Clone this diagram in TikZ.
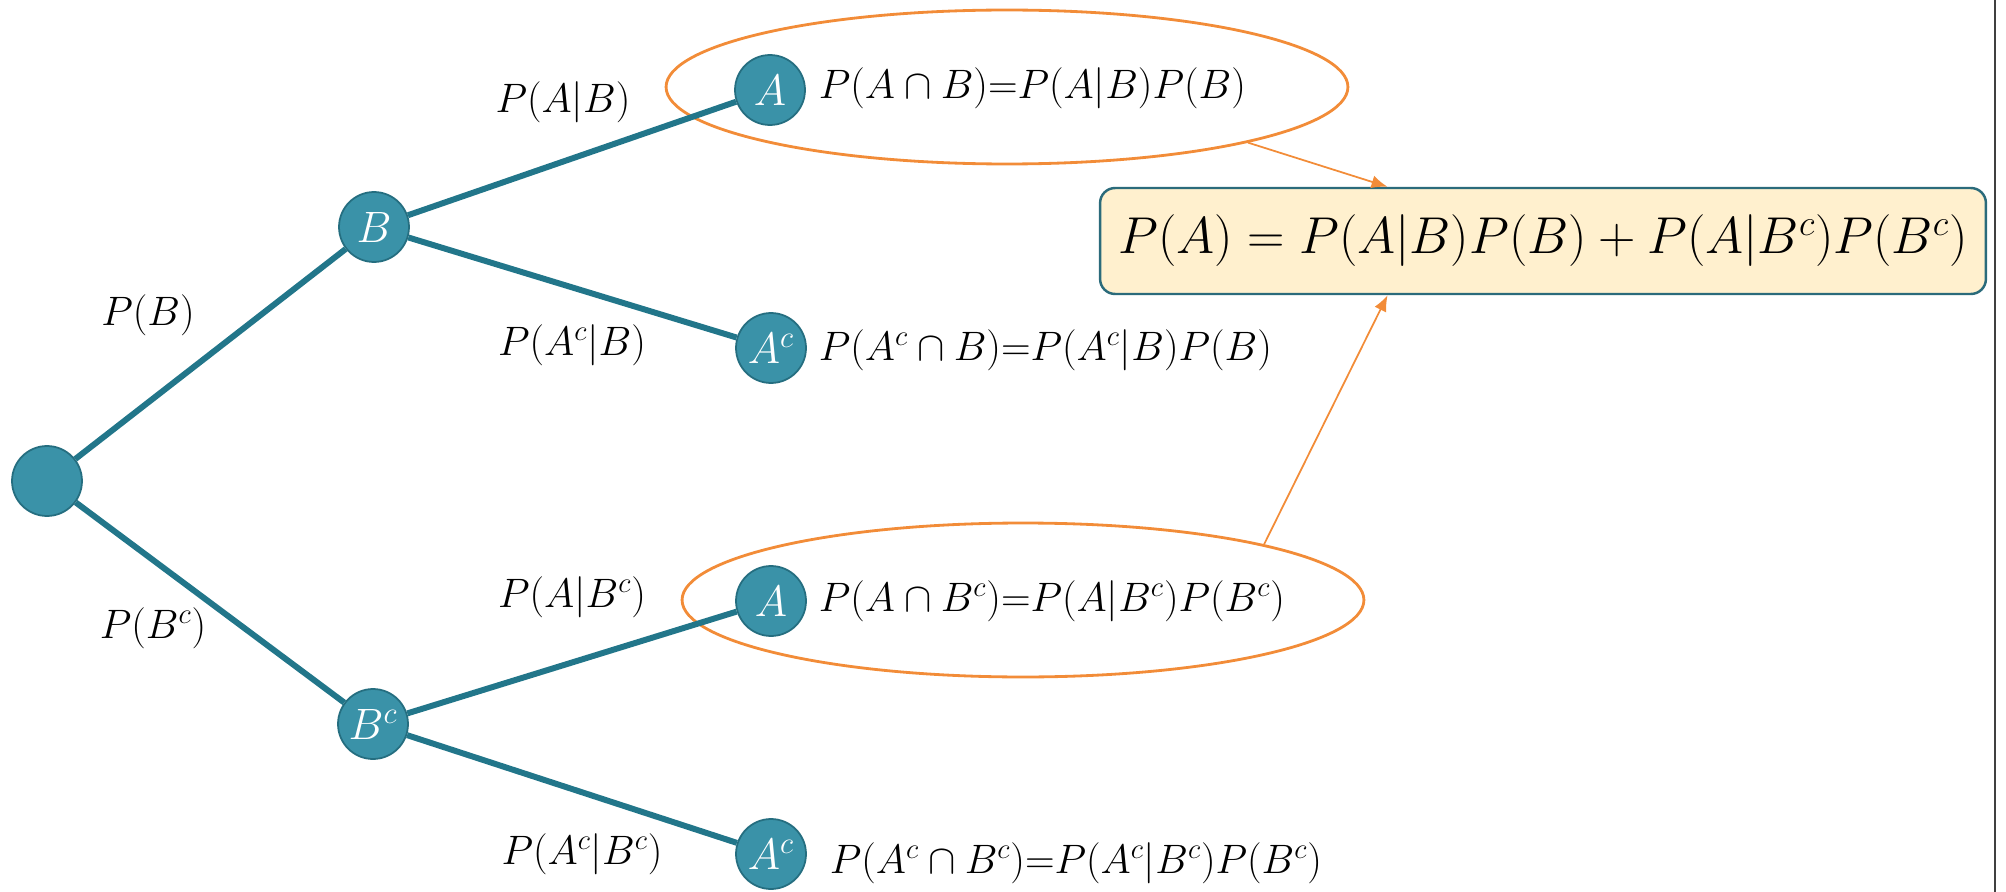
\RequirePackage{fix-cm}
\documentclass[tikz,border=0pt]{standalone}
\usepackage{amsmath}
\usepackage{amssymb}
\usepackage{xcolor}
\usetikzlibrary{shapes.geometric,calc,arrows.meta}
\definecolor{treeteal}{HTML}{22768A}
\definecolor{nodefill}{HTML}{3A92A8}
\definecolor{nodeline}{HTML}{256E80}
\definecolor{ringorange}{HTML}{F28C38}
\definecolor{boxfill}{HTML}{FFF0CE}
\definecolor{boxline}{HTML}{2B6B7B}
\newcommand{\evc}{^{c}}

\begin{document}
\begin{tikzpicture}[x=0.02cm,y=-0.02cm,>={Latex[length=0.32cm,width=0.26cm]},
                    every node/.style={inner sep=2pt},
                    event/.style={circle,fill=nodefill,draw=nodeline,line width=1pt,
                                  minimum size=1.4cm,inner sep=0pt,text=white,
                                  font=\fontsize{25}{30}\selectfont},
                    branch/.style={treeteal,line width=3.4pt},
                    prob/.style={font=\fontsize{23.4}{28}\selectfont},
                    ring/.style={ellipse,draw=ringorange,line width=1.6pt,
                                 minimum width=13.64cm,minimum height=3.08cm},
                    pull/.style={->,ringorange,line width=1pt}]
  \useasboundingbox (0,0) rectangle (2006,892);
  % orange rings behind the leaves
  \node[ring] (ringa) at (1007,87) {};
  \node[ring] (ringb) at (1023,600) {};
  % tree
  \node[event] (root) at (47,481) {};
  \node[event] (b) at (374,227) {$B$};
  \node[event] (bc) at (373,724) {$B\evc$};
  \node[event] (ab) at (770,90) {$A$};
  \node[event] (acb) at (771,348) {$A\evc$};
  \node[event] (abc) at (771,601) {$A$};
  \node[event] (acbc) at (771,854) {$A\evc$};
  \draw[branch] (root) -- (b);
  \draw[branch] (root) -- (bc);
  \draw[branch] (b) -- (ab);
  \draw[branch] (b) -- (acb);
  \draw[branch] (bc) -- (abc);
  \draw[branch] (bc) -- (acbc);
  % branch labels
  \node[prob] at (148,315) {$P(B)$};
  \node[prob] at (153,628) {$P(B\evc)$};
  \node[prob] at (563,102) {$P(A|B)$};
  \node[prob] at (572,345) {$P(A\evc|B)$};
  \node[prob] at (572,597) {$P(A|B\evc)$};
  \node[prob] at (582,854) {$P(A\evc|B\evc)$};
  % joint probabilities
  \node[prob,anchor=west] at (815,88) {$P(A\cap B){=}P(A|B)P(B)$};
  \node[prob,anchor=west] at (815,350) {$P(A\evc\cap B){=}P(A\evc|B)P(B)$};
  \node[prob,anchor=west] at (815,601) {$P(A\cap B\evc){=}P(A|B\evc)P(B\evc)$};
  \node[prob,anchor=west] at (826,863) {$P(A\evc\cap B\evc){=}P(A\evc|B\evc)P(B\evc)$};
  % total probability
  \node[draw=boxline,fill=boxfill,line width=1.4pt,rounded corners=0.3cm,
        minimum width=17.72cm,minimum height=2.12cm,
        font=\fontsize{29.5}{35}\selectfont] (total) at (1543,241)
        {$P(A) = P(A|B)P(B) + P(A|B\evc)P(B\evc)$};
  \coordinate (tin) at ($(total.north west)!0.325!(total.north east)$);
  \coordinate (bin) at ($(total.south west)!0.325!(total.south east)$);
  \draw[pull] (ringa.-13) -- (tin);
  \draw[pull] (ringb.13) -- (bin);
  \draw[black!75,line width=0.8pt] (1995,0) -- (1995,892);
\end{tikzpicture}
\end{document}
